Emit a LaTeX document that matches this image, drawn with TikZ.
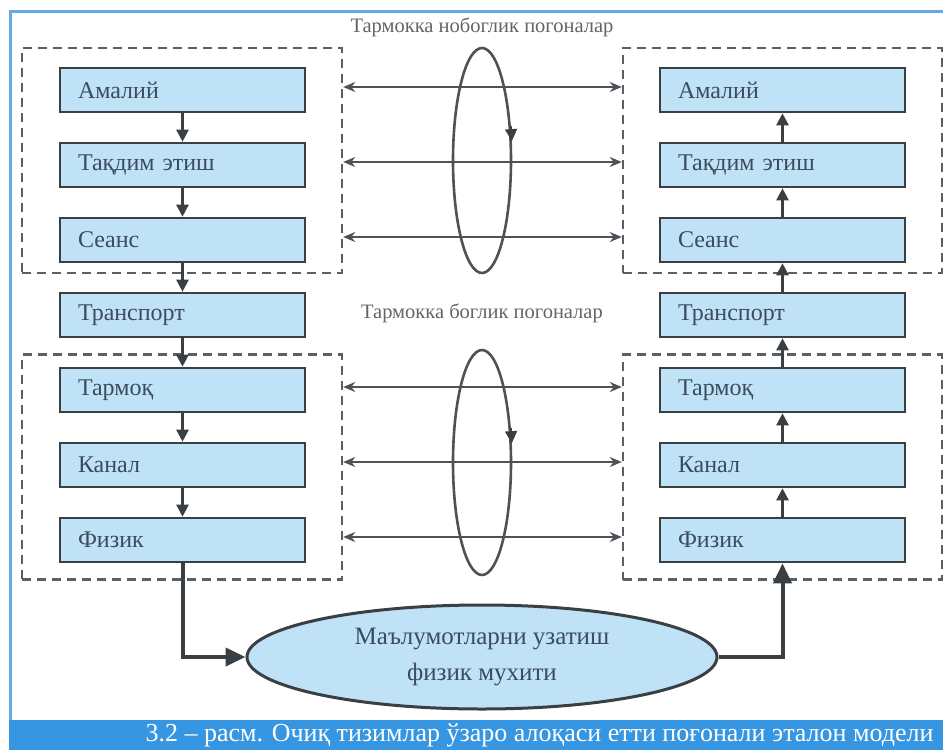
\documentclass[tikz,border=0pt]{standalone}
\usepackage{fontspec}
\setmainfont{Liberation Serif}
\usetikzlibrary{shapes.geometric,arrows.meta}

\definecolor{layerfill}{RGB}{191,226,247}
\definecolor{layerline}{RGB}{58,63,68}
\definecolor{layertext}{RGB}{58,76,94}
\definecolor{groupline}{RGB}{88,95,102}
\definecolor{tiertext}{RGB}{100,100,100}
\definecolor{capblue}{RGB}{55,150,225}
\definecolor{frameblue}{RGB}{100,168,232}

\begin{document}
\begin{tikzpicture}[x=1pt, y=-1pt,
    layer/.style={draw=layerline, line width=2.6pt, fill=layerfill, minimum width=245pt,
      minimum height=44pt, text width=209pt, inner xsep=18pt, align=left, text=layertext,
      font=\fontsize{24}{26}\selectfont},
    group/.style={draw=groupline, line width=2.4pt, dash pattern=on 9pt off 6pt, inner sep=0pt},
    ring/.style={ellipse, draw=layerline!90, line width=2.6pt, minimum width=58pt,
      minimum height=225pt, inner sep=0pt},
    tier/.style={text=tiertext, font=\fontsize{20.5}{22}\selectfont},
    layerarrow/.style={draw=layerline, line width=2.4pt, -{Triangle[length=12pt,width=12pt]}},
    peer/.style={draw=layerline!90, line width=2.6pt,
      {Stealth[length=12pt,width=10pt]}-{Stealth[length=12pt,width=10pt]}},
    feed/.style={draw=layerline, line width=4pt, -{Triangle[length=20pt,width=18pt]}}]
  \useasboundingbox (0,0) rectangle (943,750);

  % frame and caption
  \draw[frameblue, line width=3pt] (10.5,722) -- (10.5,11.5) -- (943,11.5);
  \fill[capblue] (9,720) rectangle (943,750);
  \node[anchor=east, text=white, font=\fontsize{26}{28}\selectfont] (caption) at (937,735)
    {3.2 – расм. Очиқ тизимлар ўзаро алоқаси етти поғонали эталон модели};

  % dashed groups
  \node[group, minimum width=320pt, minimum height=225pt] (gUL) at (182,160.5) {};
  \node[group, minimum width=320pt, minimum height=225pt] (gLL) at (182,467) {};
  \node[group, minimum width=319pt, minimum height=225pt] (gUR) at (782.5,160.5) {};
  \node[group, minimum width=319pt, minimum height=225pt] (gLR) at (782.5,467) {};

  % left stack
  \node[layer] (aL) at (182.5,90) {Амалий};
  \node[layer] (tL) at (182.5,165) {Тақдим этиш};
  \node[layer] (sL) at (182.5,240) {Сеанс};
  \node[layer] (trL) at (182.5,315) {Транспорт};
  \node[layer] (nL) at (182.5,390) {Тармоқ};
  \node[layer] (kL) at (182.5,465) {Канал};
  \node[layer] (fL) at (182.5,540) {Физик};

  % right stack
  \node[layer] (aR) at (782.5,90) {Амалий};
  \node[layer] (tR) at (782.5,165) {Тақдим этиш};
  \node[layer] (sR) at (782.5,240) {Сеанс};
  \node[layer] (trR) at (782.5,315) {Транспорт};
  \node[layer] (nR) at (782.5,390) {Тармоқ};
  \node[layer] (kR) at (782.5,465) {Канал};
  \node[layer] (fR) at (782.5,540) {Физик};

  \draw[layerarrow] (aL) -- (tL);
  \draw[layerarrow] (tL) -- (sL);
  \draw[layerarrow] (sL) -- (trL);
  \draw[layerarrow] (trL) -- (nL);
  \draw[layerarrow] (nL) -- (kL);
  \draw[layerarrow] (kL) -- (fL);

  \draw[layerarrow] (fR) -- (kR);
  \draw[layerarrow] (kR) -- (nR);
  \draw[layerarrow] (nR) -- (trR);
  \draw[layerarrow] (trR) -- (sR);
  \draw[layerarrow] (sR) -- (tR);
  \draw[layerarrow] (tR) -- (aR);

  % peer protocols
  \node[tier] (tierUp) at (482,27) {Тармокка нобоглик погоналар};
  \node[tier] (tierLow) at (482,313) {Тармокка боглик погоналар};
  \node[ring] (eUp) at (482,160.5) {};
  \node[ring] (eLow) at (482,462.5) {};
  \draw[layerarrow, line width=1.8pt] (eUp.50) -- (eUp.33);
  \draw[layerarrow, line width=1.8pt] (eLow.50) -- (eLow.33);

  \draw[peer] ([yshift=3pt]gUL.east |- aL) -- ([yshift=3pt]gUR.west |- aR);
  \draw[peer] ([yshift=3pt]gUL.east |- tL) -- ([yshift=3pt]gUR.west |- tR);
  \draw[peer] ([yshift=3pt]gUL.east |- sL) -- ([yshift=3pt]gUR.west |- sR);
  \draw[peer] ([yshift=3pt]gLL.east |- nL) -- ([yshift=3pt]gLR.west |- nR);
  \draw[peer] ([yshift=3pt]gLL.east |- kL) -- ([yshift=3pt]gLR.west |- kR);
  \draw[peer] ([yshift=3pt]gLL.east |- fL) -- ([yshift=3pt]gLR.west |- fR);

  % physical medium
  \node[ellipse, draw=layerline, line width=3pt, fill=layerfill, minimum width=470pt,
    minimum height=104pt, inner sep=0pt, align=center, text=layertext,
    font=\fontsize{25}{36}\selectfont] (medium) at (482,657)
    {Маълумотларни узатиш\\физик мухити};
  \draw[feed] (fL) |- (medium);
  \draw[feed] (medium) -| (fR);
\end{tikzpicture}
\end{document}
